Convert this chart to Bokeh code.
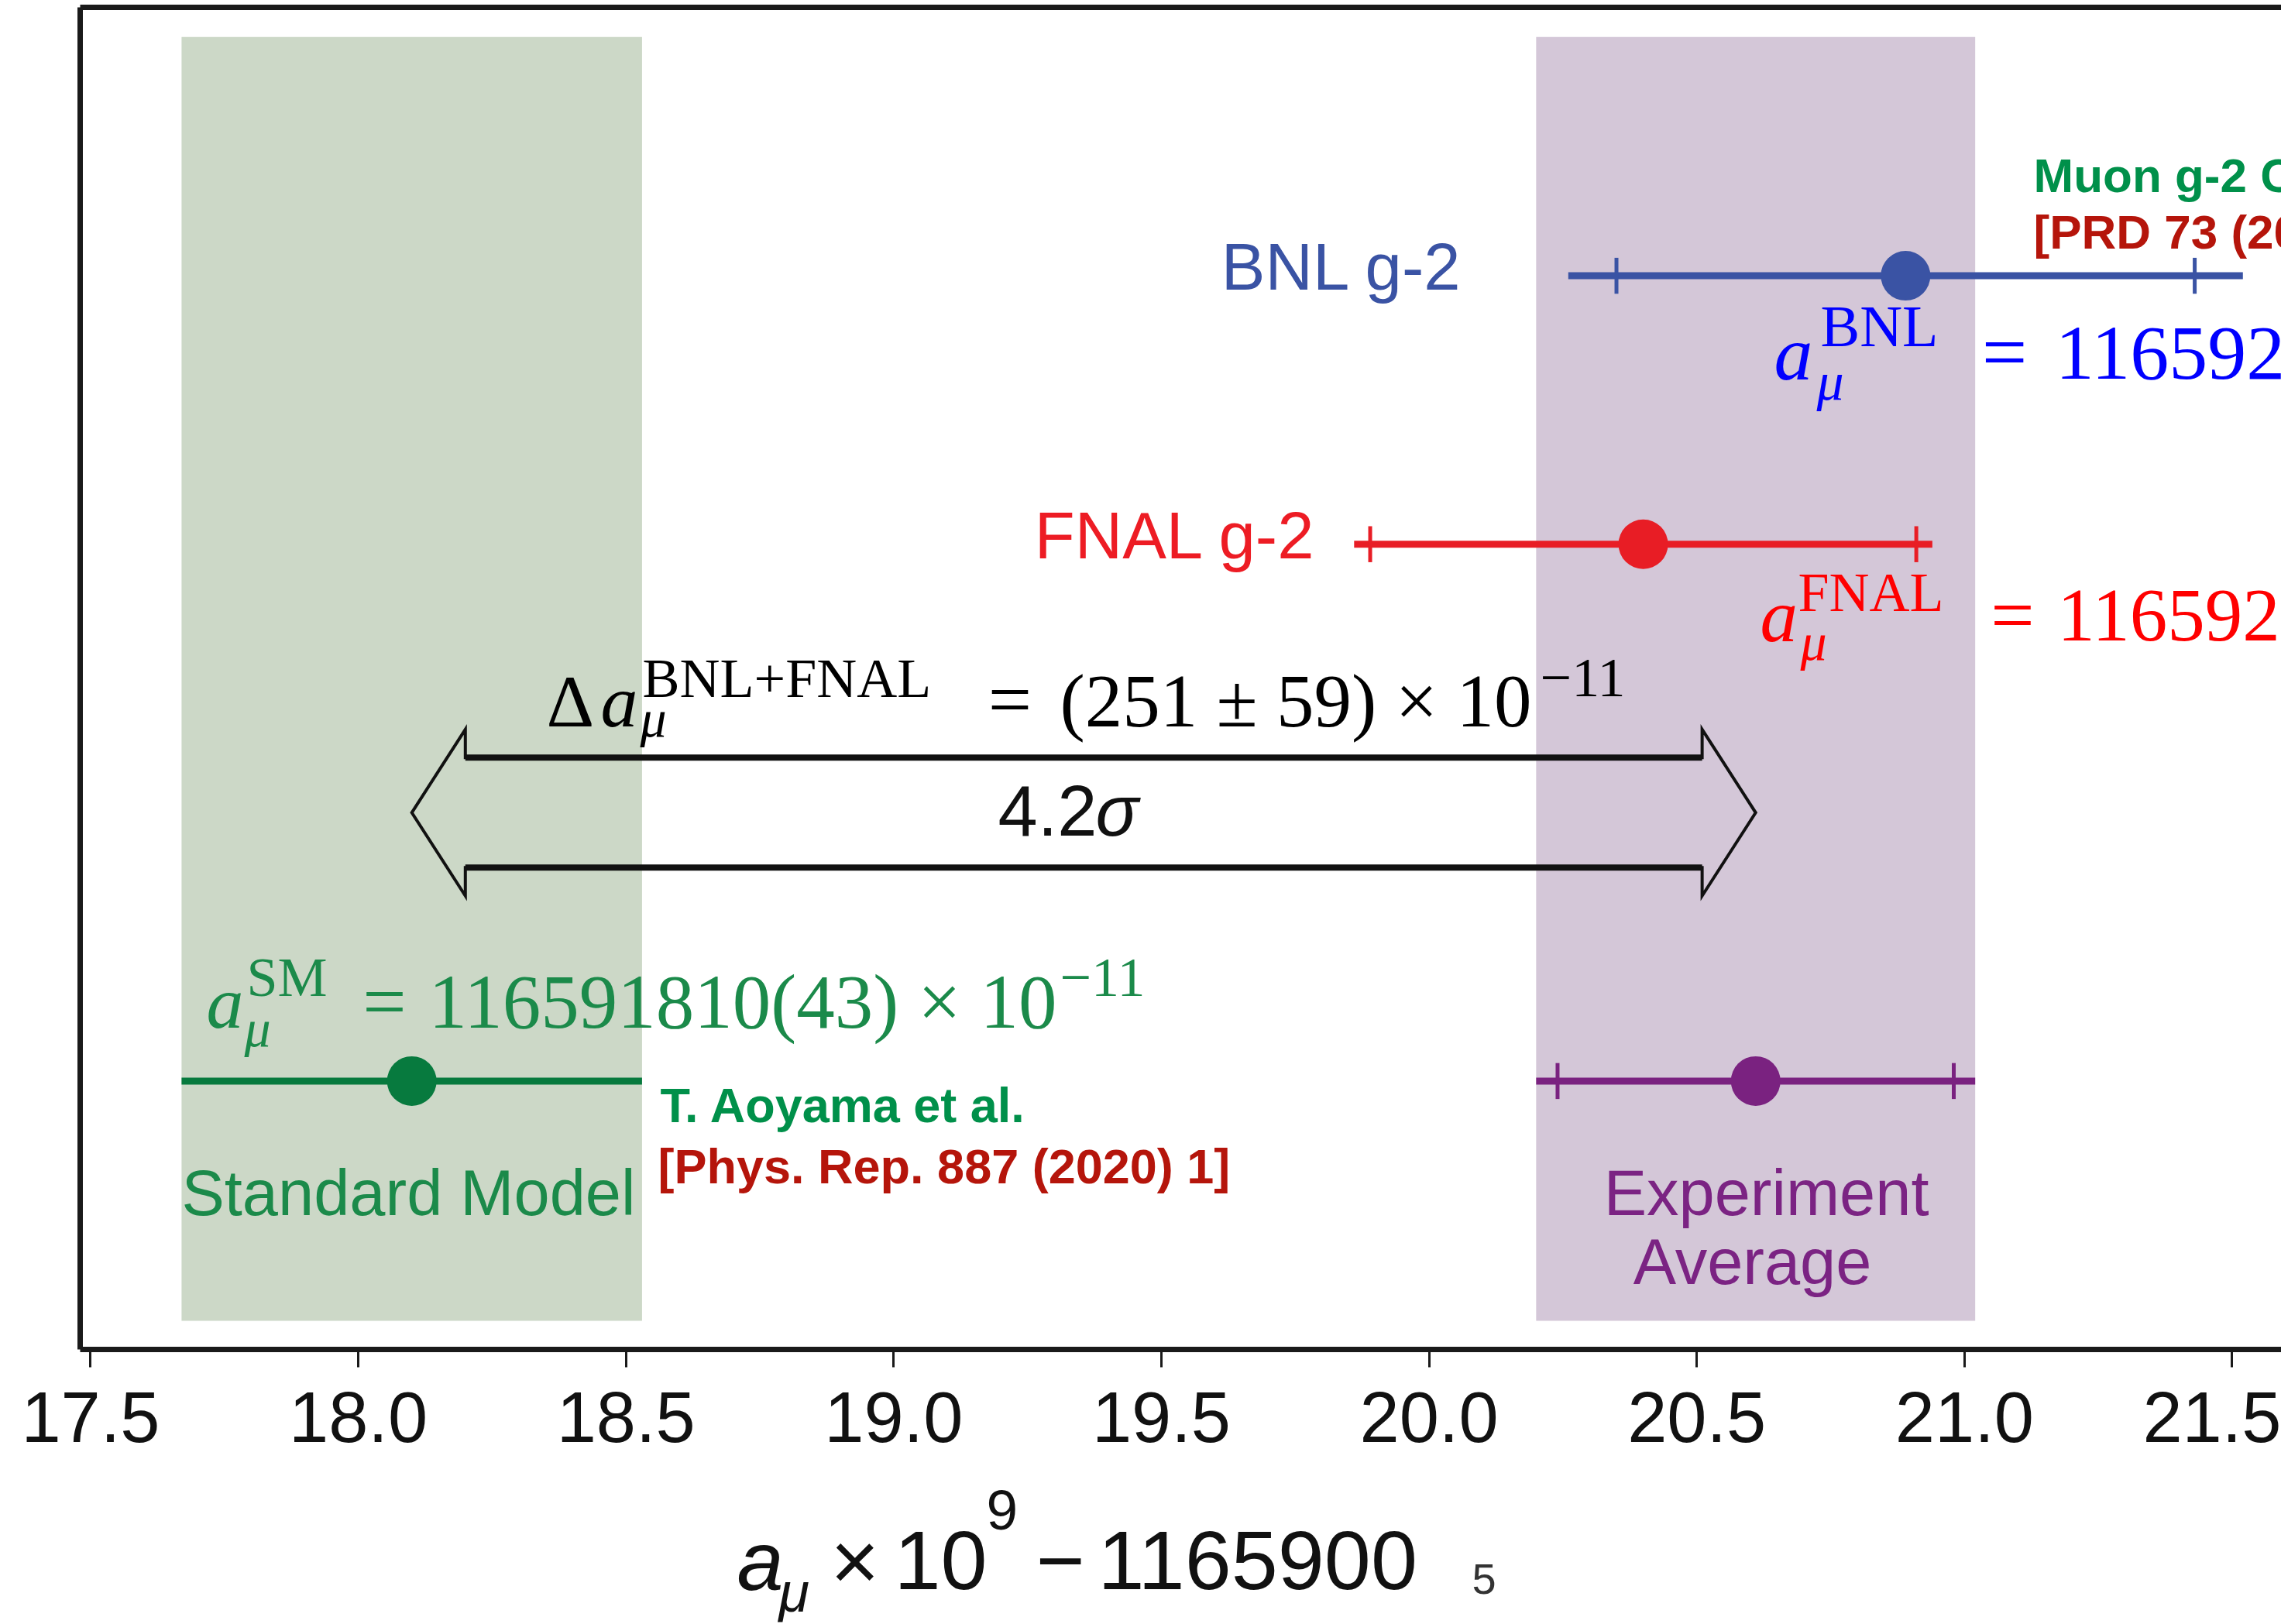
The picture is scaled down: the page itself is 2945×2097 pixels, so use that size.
from bokeh.plotting import figure
from bokeh.models import Label, FixedTicker, LinearAxis, Range1d, ColumnDataSource
from bokeh.layouts import column
from bokeh.embed import file_html
from bokeh.resources import INLINE

# ---------------- data ----------------
row_names = ["BNL g-2", "FNAL g-2", "Standard Model", "Experiment Average"]
row_y = [4, 3, 1, 1]
central = [20.89, 20.40, 18.10, 20.61]          # a_mu x 1e9 - 1165900
err_total = [0.63, 0.54, 0.43, 0.41]
err_stat = [0.54, 0.51, 0.0, 0.37]               # inner tick marks (0 = none)
bar_colors = ["#3A53A4", "#E81D25", "#077A3E", "#7A2280"]

tick_values = [17.5, 18.0, 18.5, 19.0, 19.5, 20.0, 20.5, 21.0, 21.5]
tick_labels = ["17.5", "18.0", "18.5", "19.0", "19.5", "20.0", "20.5", "21.0", "21.5"]

band_colors = ["#CCD8C7", "#D4C7D8"]
band_rows = [2, 3]          # SM and experiment average bands
band_bottom, band_top = 0.107, 4.89

arrow_y = 2.0
arrow_from, arrow_to = central[2], central[3]

SANS = "Liberation Sans"
SERIF = "Liberation Serif"
PX_PER_Y = 346.6
X_RANGE = Range1d(17.4806, 21.5919)

# ---------------- main figure ----------------
p = figure(frame_width=2842, frame_height=1733,
           x_range=X_RANGE, y_range=Range1d(0, 5),
           output_backend="svg", toolbar_location=None,
           min_border_left=103, min_border_right=0,
           min_border_top=9, min_border_bottom=170)
p.outline_line_color = None
p.grid.visible = False
p.background_fill_color = "white"
p.border_fill_color = "white"

xa = p.xaxis[0]
xa.ticker = FixedTicker(ticks=tick_values)
xa.major_label_overrides = {t: l for t, l in zip(tick_values, tick_labels)}
xa.axis_line_width = 7
xa.axis_line_color = "#1a1a1a"
xa.major_tick_out = 23
xa.major_tick_in = 0
xa.major_tick_line_width = 3
xa.major_tick_line_color = "#1a1a1a"
xa.minor_tick_line_color = None
xa.major_label_text_font = SANS
xa.major_label_text_font_size = "92px"
xa.major_label_text_color = "#111111"
xa.major_label_standoff = 32

ya = p.yaxis[0]
ya.ticker = FixedTicker(ticks=[])
ya.axis_line_width = 7
ya.axis_line_color = "#1a1a1a"
ya.major_tick_line_color = None
ya.minor_tick_line_color = None
ya.major_label_text_font_size = "0px"
ya.major_label_standoff = 0
ya.major_tick_out = 0
ya.minor_tick_out = 0

top = LinearAxis(ticker=FixedTicker(ticks=[]), axis_line_width=7, axis_line_color="#1a1a1a",
                 major_tick_line_color=None, minor_tick_line_color=None,
                 major_label_text_font_size="0px", major_label_standoff=0,
                 major_tick_out=0, minor_tick_out=0)
p.add_layout(top, "above")

# ---------------- bands ----------------
p.quad(left=[central[i] - err_total[i] for i in band_rows],
       right=[central[i] + err_total[i] for i in band_rows],
       bottom=band_bottom, top=band_top, fill_color=band_colors, line_color=None)

# ---------------- error bars ----------------
src = ColumnDataSource(dict(
    y=row_y, x=central,
    x0=[c - e for c, e in zip(central, err_total)],
    x1=[c + e for c, e in zip(central, err_total)],
    color=bar_colors))
p.segment(x0="x0", x1="x1", y0="y", y1="y", line_color="color", line_width=9,
          line_cap="butt", source=src)

cap_x, cap_y, cap_c = [], [], []
for c, s, y, col in zip(central, err_stat, row_y, bar_colors):
    if s > 0:
        cap_x += [c - s, c + s]
        cap_y += [y, y]
        cap_c += [col, col]
p.segment(x0=cap_x, x1=cap_x, y0=[y - 0.067 for y in cap_y], y1=[y + 0.067 for y in cap_y],
          line_color=cap_c, line_width=5)

p.scatter(x="x", y="y", size=64, marker="circle", fill_color="color", line_color=None, source=src)

# ---------------- double arrow ----------------
hl, sh, hh = 0.10, 0.205, 0.31
ax = [arrow_from, arrow_from + hl, arrow_from + hl, arrow_to - hl, arrow_to - hl, arrow_to,
      arrow_to - hl, arrow_to - hl, arrow_from + hl, arrow_from + hl]
ay = [arrow_y, arrow_y + hh, arrow_y + sh, arrow_y + sh, arrow_y + hh, arrow_y,
      arrow_y - hh, arrow_y - sh, arrow_y - sh, arrow_y - hh]
p.patch(ax, ay, fill_color=None, line_color="#111111", line_width=4, line_join="miter")
p.segment(x0=[arrow_from + hl] * 2, x1=[arrow_to - hl] * 2,
          y0=[arrow_y + sh, arrow_y - sh], y1=[arrow_y + sh, arrow_y - sh],
          line_color="#111111", line_width=8)


# ---------------- text ----------------
def lbl(fig, x, y, text, size, color, font=SANS, style="normal", align="left"):
    # y is the alphabetic baseline in data units; compensate Label's baseline offset
    fig.add_layout(Label(x=x, y=y + 0.345 * size / PX_PER_Y, text=text, text_font=font,
                         text_font_size=f"{size}px", text_font_style=style,
                         text_color=color, text_align=align, text_baseline="alphabetic"))


lbl(p, 20.063, 3.950, row_names[0], 85, "#3A53A4", align="right")
lbl(p, 19.7895, 2.949, row_names[1], 85, "#ED1C24", align="right")
lbl(p, 17.670, 0.499, row_names[2], 83, "#1B8A4A")
lbl(p, 20.630, 0.499, "Experiment", 83, "#7B2383", align="center")
lbl(p, 20.604, 0.2424, "Average", 83, "#7B2383", align="center")

lbl(p, 18.5641, 0.8482, "T. Aoyama et al.", 63, "#00904A", style="bold")
lbl(p, 18.5598, 0.6203, "[Phys. Rep. 887 (2020) 1]", 63, "#B5150B", style="bold")
lbl(p, 21.129, 4.3133, "Muon g-2 C", 62, "#00904A", style="bold")
lbl(p, 21.129, 4.1027, "[PRD 73 (20", 62, "#B5150B", style="bold")

# BNL equation
BLUE = "#0000FF"
lbl(p, 20.6444, 3.612, "a", 100, BLUE, font=SERIF, style="italic")
lbl(p, 20.7312, 3.7363, "BNL", 76, BLUE, font=SERIF)
lbl(p, 20.724, 3.537, "μ", 70, BLUE, font=SERIF, style="italic")
lbl(p, 21.0749, 3.612, "=", 104, BLUE, font=SERIF, align="center")
lbl(p, 21.170, 3.612, "116592", 100, BLUE, font=SERIF)

# FNAL equation
RED = "#FF0000"
lbl(p, 20.6184, 2.637, "a", 97, RED, font=SERIF, style="italic")
lbl(p, 20.6893, 2.7496, "FNAL", 72, RED, font=SERIF)
lbl(p, 20.6936, 2.568, "μ", 68, RED, font=SERIF, style="italic")
lbl(p, 21.090, 2.637, "=", 100, RED, font=SERIF, align="center")
lbl(p, 21.1735, 2.637, "116592", 97, RED, font=SERIF)

# difference
BLK = "#000000"
lbl(p, 18.3515, 2.3197, "Δ", 96, BLK, font=SERIF)
lbl(p, 18.4528, 2.3197, "a", 96, BLK, font=SERIF, style="italic")
lbl(p, 18.5309, 2.4293, "BNL+FNAL", 72, BLK, font=SERIF)
lbl(p, 18.5265, 2.282, "μ", 68, BLK, font=SERIF, style="italic")
lbl(p, 19.2173, 2.3197, "=", 100, BLK, font=SERIF, align="center")
lbl(p, 19.3106, 2.3197, "(251 ± 59) × 10", 97, BLK, font=SERIF)
lbl(p, 20.2076, 2.4293, "−11", 72, BLK, font=SERIF)
lbl(p, 19.1949, 1.9157, "4.2", 92, "#111111")
lbl(p, 19.3772, 1.9157, "σ", 92, "#111111", style="italic")

# SM equation
GRN = "#1B8A4A"
lbl(p, 17.7164, 1.1973, "a", 96, GRN, font=SERIF, style="italic")
lbl(p, 17.7916, 1.3156, "SM", 72, GRN, font=SERIF)
lbl(p, 17.7873, 1.128, "μ", 68, GRN, font=SERIF, style="italic")
lbl(p, 18.049, 1.1973, "=", 100, GRN, font=SERIF, align="center")
lbl(p, 18.1316, 1.1973, "116591810(43) × 10", 99, GRN, font=SERIF)
lbl(p, 19.3106, 1.3127, "−11", 72, GRN, font=SERIF)

# ---------------- x-axis title strip ----------------
q = figure(frame_width=2842, frame_height=185, x_range=X_RANGE,
           y_range=Range1d(-1.0242, -0.4905),
           output_backend="svg", toolbar_location=None,
           x_axis_location=None, y_axis_location=None,
           min_border_left=103, min_border_right=0, min_border_top=0, min_border_bottom=0)
q.outline_line_color = None
q.grid.visible = False
q.background_fill_color = "white"
q.border_fill_color = "white"

lbl(q, 18.7074, -0.8944, "a", 108, "#111111", style="italic")
lbl(q, 18.7855, -0.975, "μ", 72, "#111111", style="italic")
lbl(q, 18.882, -0.8944, "×", 108, "#111111")
lbl(q, 19.001, -0.8944, "10", 108, "#111111")
lbl(q, 19.1732, -0.672, "9", 73, "#111111")
lbl(q, 19.2658, -0.8944, "−", 108, "#111111")
lbl(q, 19.3815, -0.8944, "1165900", 108, "#111111")
lbl(q, 20.080, -0.912, "5", 56, "#333333")

layout = column(p, q, spacing=0)
open("out.html", "w").write(file_html(layout, INLINE))
